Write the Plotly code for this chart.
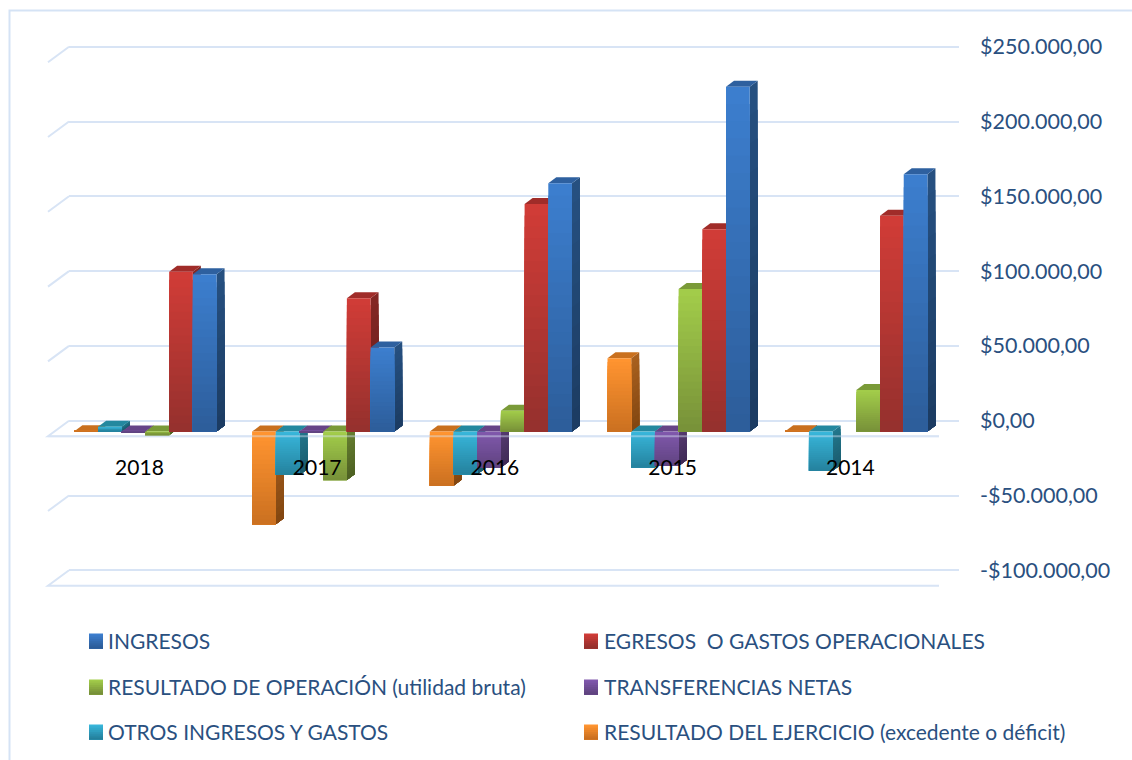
import plotly.graph_objects as go

# ---------- data ----------
categories = ["2018", "2017", "2016", "2015", "2014"]
ingresos = [105100, 56300, 166000, 230500, 172000]
egresos = [106900, 89100, 152100, 135200, 144300]
resultado_op = [-2200, -32400, 14000, 95300, 27800]
transferencias = [-500, -300, -24000, -23000, None]
otros = [3300, -29000, -28500, -23900, -26100]
resultado_ej = [300, -62000, -36200, 49000, 300]
tick_values = [250000, 200000, 150000, 100000, 50000, 0, -50000, -100000]
tick_labels = ["$250.000,00", "$200.000,00", "$150.000,00", "$100.000,00", "$50.000,00",
               "$0,00", "-$50.000,00", "-$100.000,00"]

# left-to-right order inside each group
names = ["RESULTADO DEL EJERCICIO (excedente o déficit)", "OTROS INGRESOS Y GASTOS",
         "TRANSFERENCIAS NETAS", "RESULTADO DE OPERACIÓN (utilidad bruta)",
         "EGRESOS  O GASTOS OPERACIONALES", "INGRESOS"]
values = [resultado_ej, otros, transferencias, resultado_op, egresos, ingresos]

# front top, front bottom, side top, side bottom, top face
palette = [
    ("#FF9430", "#C96F20", "#A8601F", "#804510", "#C9701E"),
    ("#38B6DA", "#24809C", "#22768C", "#1A5A6C", "#23889F"),
    ("#8058AC", "#5F437F", "#553A70", "#3F2A55", "#664487"),
    ("#A2CC4A", "#768F38", "#667F30", "#4C5F22", "#7A9A38"),
    ("#D03C37", "#93302D", "#832724", "#611C1A", "#A02C29"),
    ("#3C7ECE", "#2C5C98", "#265080", "#1B3A60", "#2E609F"),
]
# legend: swatch left, text left, row centre (pixels)
legend_pos = [(584, 602, 732), (89, 106, 732), (584, 602, 687), (89, 106, 687), (584, 602, 641), (89, 106, 641)]

W, H = 1132, 760
TEXT = "#2A5080"
GRID = "#D8E4F5"
FONT = "Lato"
PX_PER_UNIT = 74.8 / 50000
NGROUP = len(categories)
bar_w = 0.8 / 6
DX = 8 / 177.7
DY = 6 / PX_PER_UNIT
N = 20
M = 12
YR = [-110000, 260000]
WALL_R = [-118000, 260000]


def mix(a, b, t):
    ca = [int(a[i:i + 2], 16) for i in (1, 3, 5)]
    cb = [int(b[i:i + 2], 16) for i in (1, 3, 5)]
    return "rgb(%d,%d,%d)" % tuple(round(p + (q - p) * t) for p, q in zip(ca, cb))


fig = go.Figure()
shapes = []
annotations = []

# wall axis carrier
fig.add_trace(go.Scatter(x=[0, 1], y=[0, 0], mode="none", showlegend=False, hoverinfo="skip",
                         xaxis="x", yaxis="y"))

for s, (name, vals, pal) in enumerate(zip(names, values, palette)):
    offset = -0.4 + s * bar_w
    fig.add_trace(go.Bar(x=list(range(NGROUP)), y=vals, name=name, width=bar_w, offset=offset,
                         marker=dict(color=pal[0], line=dict(width=0)),
                         xaxis="x2", yaxis="y2", showlegend=False))
    # gradient of the front face: each slice reaches the dark end of the bar, so no seams show
    for k in range(1, N):
        t = k / N
        base, ys = [], []
        for v in vals:
            if v is None:
                base.append(None); ys.append(None); continue
            base.append(0 if v > 0 else v * k / N)
            ys.append(v * (N - k) / N)
        fig.add_trace(go.Bar(x=list(range(NGROUP)), y=ys, base=base, width=bar_w, offset=offset,
                             marker=dict(color=mix(pal[0], pal[1], t), line=dict(width=0)), showlegend=False,
                             hoverinfo="skip", xaxis="x2", yaxis="y2"))
    # depth faces
    for g, v in enumerate(vals):
        if v is None:
            continue
        x0 = g + offset
        x1 = x0 + bar_w
        top = max(v, 0)
        for k in range(M):
            t = k / M
            a, b = (0, v * (M - k) / M) if v > 0 else (v * k / M, v)
            shapes.append(dict(type="path", xref="x2", yref="y2", layer="below", line=dict(width=0),
                               fillcolor=mix(pal[2], pal[3], t),
                               path=f"M{x1},{a} L{x1 + DX},{a + DY} L{x1 + DX},{b + DY} L{x1},{b} Z"))
        shapes.append(dict(type="path", xref="x2", yref="y2", layer="below", line=dict(width=0),
                           fillcolor=pal[4],
                           path=f"M{x0},{top} L{x0 + DX},{top + DY} L{x1 + DX},{top + DY} L{x1},{top} Z"))

    # legend entry
    sx, tx, ry = legend_pos[s]
    for k in range(8):
        shapes.append(dict(type="rect", xref="paper", yref="paper", layer="above", line=dict(width=0),
                           x0=sx / W, x1=(sx + 14) / W, y0=1 - (ry + 7.5) / H, y1=1 - (ry - 7.5 + k * 15 / 8) / H,
                           fillcolor=mix(pal[0], pal[1], k / 7)))
    annotations.append(dict(text=name, xref="paper", yref="paper", x=tx / W, y=1 - (ry - 1) / H,
                            xanchor="left", yanchor="middle", showarrow=False,
                            font=dict(family=FONT, size=21, color=TEXT)))

# perspective stubs on every gridline; front rails only at zero and at the bottom
for v in tick_values:
    path = "M0,0 L-21,-15.5 L870,-15.5" if v in (0, -100000) else "M0,0 L-21,-15.5"
    shapes.append(dict(type="path", xref="paper", yref="y", xsizemode="pixel", ysizemode="pixel",
                       xanchor=69 / W, yanchor=v, layer="below", line=dict(color=GRID, width=2),
                       path=path))
# front zero line shining through the bars
shapes.append(dict(type="path", xref="paper", yref="y", xsizemode="pixel", ysizemode="pixel",
                   xanchor=69 / W, yanchor=0, layer="above", opacity=0.45,
                   line=dict(color=GRID, width=2), path="M-21,-15.5 L870,-15.5"))
# outer frame
shapes.append(dict(type="rect", xref="paper", yref="paper", x0=9.5 / W, x1=1.2, y0=-0.2, y1=1 - 10.5 / H,
                   layer="below", line=dict(color="#D5E3F5", width=2), fillcolor="rgba(0,0,0,0)"))

layout = dict(
    width=W, height=H, margin=dict(l=0, r=0, t=0, b=0), autosize=False,
    paper_bgcolor="white", plot_bgcolor="rgba(0,0,0,0)", showlegend=False,
    barmode="overlay", shapes=shapes, annotations=annotations,
    font=dict(family=FONT, size=21, color=TEXT),
    # back wall
    xaxis=dict(domain=[69 / W, 959 / W], range=[0, 1], visible=False, fixedrange=True, anchor="y"),
    yaxis=dict(domain=[1 - (420.7 - WALL_R[0] * PX_PER_UNIT) / H, 1 - (420.7 - WALL_R[1] * PX_PER_UNIT) / H],
               range=WALL_R, side="right", anchor="x", tickmode="array", tickvals=tick_values,
               ticktext=tick_labels, ticks="", ticklabelstandoff=20, showline=False, zeroline=False,
               showgrid=True, gridcolor=GRID, gridwidth=2, fixedrange=True,
               tickfont=dict(family=FONT, size=21.5, color=TEXT)),
    # bars
    xaxis2=dict(domain=[56.6 / W, 945.2 / W], range=[-0.5, NGROUP - 0.5], anchor="free",
                position=1 - 445 / H, tickmode="array", tickvals=list(range(NGROUP)), ticktext=categories,
                ticks="", showline=False, showgrid=False, zeroline=False, ticklabelshift=-6,
                ticklabelstandoff=8, fixedrange=True, tickfont=dict(family=FONT, size=21, color="#000000")),
    yaxis2=dict(domain=[1 - (431.6 - YR[0] * PX_PER_UNIT) / H, 1 - (431.6 - YR[1] * PX_PER_UNIT) / H],
                range=YR, anchor="x2", visible=False, fixedrange=True),
)
fig.update_layout(**layout)

fig.write_html("out.html", config={"displayModeBar": False},
               post_script="document.body.style.margin='0';document.body.style.overflow='hidden';")
